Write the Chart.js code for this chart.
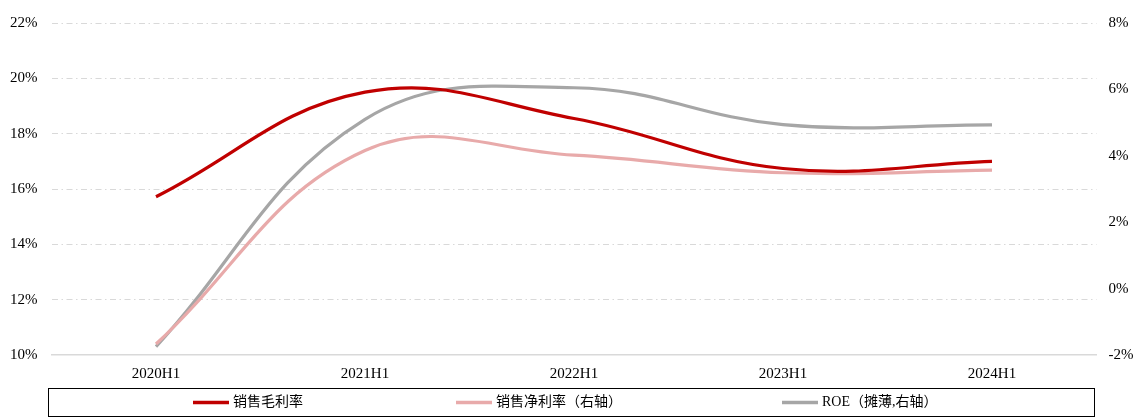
<!DOCTYPE html>
<html><head><meta charset="utf-8">
<script src="https://cdn.jsdelivr.net/npm/chart.js@4/dist/chart.umd.min.js"></script>
<style>html,body{margin:0;padding:0;background:#fff;}#wrap{width:1147px;height:418px;}</style>
</head><body><div id="wrap"><canvas id="c" width="1147" height="418"></canvas></div>
<script>
const categories = ['2020H1','2021H1','2022H1','2023H1','2024H1'];
const grossMargin = [15.72, 19.5, 18.55, 16.74, 17.0];
const netMargin = [-1.67, 4.16, 4.02, 3.49, 3.57];
const roe = [-1.75, 5.1, 6.05, 4.94, 4.93];
const leftTicks = [10, 12, 14, 16, 18, 20, 22];
const rightTicks = [-2, 0, 2, 4, 6, 8];
const seriesNames = ['销售毛利率', '销售净利率（右轴）', 'ROE（摊薄,右轴）'];

const FONT = '"Liberation Serif","Times New Roman","Noto Sans CJK SC",serif';
const LEG_FONT = '14px "Liberation Serif","Noto Sans CJK SC",serif';
const legendX = [193, 456, 782];

const legendBox = {
  id: 'legendBox',
  afterDraw(chart) {
    const ctx = chart.ctx;
    ctx.save();
    ctx.strokeStyle = '#000';
    ctx.lineWidth = 1;
    ctx.strokeRect(48.5, 388.5, 1046, 28);
    const y = 402.5;
    chart.data.datasets.forEach((ds, i) => {
      const x = legendX[i];
      ctx.strokeStyle = ds.borderColor;
      ctx.lineWidth = 3.5;
      ctx.beginPath();
      ctx.moveTo(x, y);
      ctx.lineTo(x + 36, y);
      ctx.stroke();
      ctx.fillStyle = '#000';
      ctx.font = LEG_FONT;
      ctx.textBaseline = 'middle';
      ctx.textAlign = 'left';
      ctx.fillText(ds.label, x + 40, y);
    });
    ctx.restore();
  }
};

new Chart(document.getElementById('c'), {
  type: 'line',
  data: {
    labels: categories,
    datasets: [
      { label: seriesNames[0], data: grossMargin, yAxisID: 'y', borderColor: '#C00000', backgroundColor: '#C00000', borderWidth: 3.2, pointRadius: 0, tension: 0.4 },
      { label: seriesNames[1], data: netMargin, yAxisID: 'y1', borderColor: '#E8AAAA', backgroundColor: '#E8AAAA', borderWidth: 3.2, pointRadius: 0, tension: 0.4 },
      { label: seriesNames[2], data: roe, yAxisID: 'y1', borderColor: '#A6A6A6', backgroundColor: '#A6A6A6', borderWidth: 3.2, pointRadius: 0, tension: 0.4 }
    ]
  },
  options: {
    responsive: false,
    animation: false,
    layout: { padding: { top: 18, bottom: 37, left: 0, right: 0 } },
    plugins: {
      tooltip: { enabled: false },
      legend: { display: false }
    },
    scales: {
      x: {
        offset: true,
        grid: { display: false, drawTicks: false },
        border: { display: true, color: '#D9D9D9', width: 1.5 },
        ticks: { color: '#000', font: { family: FONT, size: 15 }, padding: 10, maxRotation: 0 },
        afterFit(s) { s.height = 26; }
      },
      y: {
        position: 'left', min: 10, max: 22,
        afterBuildTicks(s) { s.ticks = leftTicks.map(v => ({ value: v })); },
        ticks: { color: '#000', font: { family: FONT, size: 15 }, padding: 14, callback: v => v + '%' },
        grid: { color: ctx => ctx.tick && ctx.tick.value === 10 ? 'rgba(0,0,0,0)' : '#D9D9D9', lineWidth: 1, drawTicks: false },
        border: { display: false, dash: [6, 3.5, 1.5, 3.5] },
        afterFit(s) { s.width = 51.5; }
      },
      y1: {
        position: 'right', min: -2, max: 8,
        afterBuildTicks(s) { s.ticks = rightTicks.map(v => ({ value: v })); },
        ticks: { color: '#000', font: { family: FONT, size: 15 }, padding: 12, callback: v => v + '%' },
        grid: { display: false, drawTicks: false },
        border: { display: false },
        afterFit(s) { s.width = 50.5; }
      }
    }
  },
  plugins: [legendBox]
});
</script>
</body></html>
